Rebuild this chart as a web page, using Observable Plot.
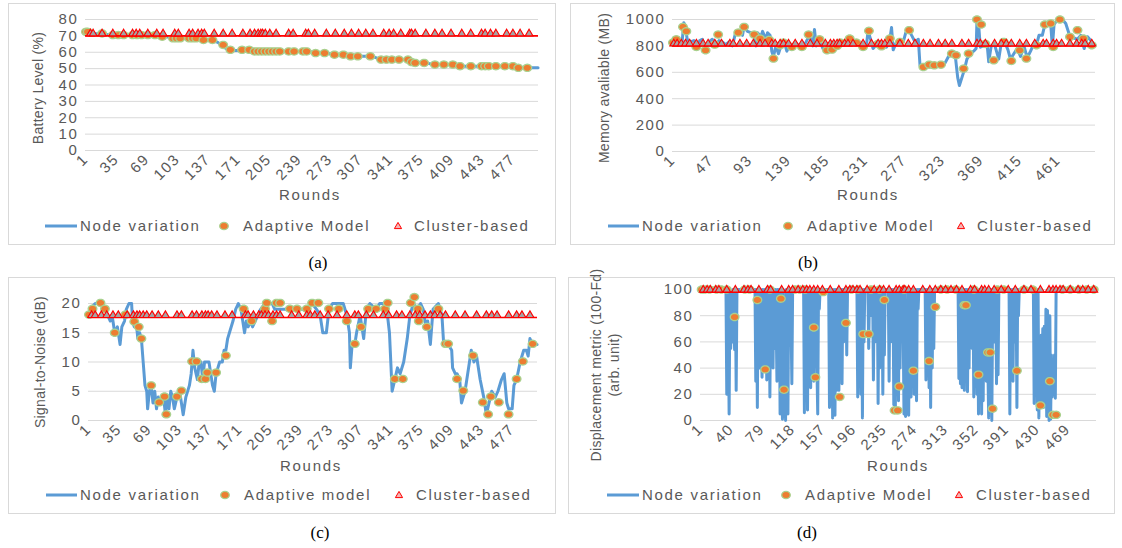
<!DOCTYPE html>
<html><head><meta charset="utf-8">
<script src="https://cdn.jsdelivr.net/npm/d3@7"></script>
<script src="https://cdn.jsdelivr.net/npm/@observablehq/plot@0.6"></script>
<style>
body{margin:0;background:#fff;}
#root{position:relative;width:1122px;height:548px;overflow:hidden;background:#fff;font-family:"Liberation Sans",Arial,sans-serif;color:#595959;}
.box{position:absolute;border:1px solid #d9d9d9;box-sizing:border-box;}
.abs{position:absolute;white-space:nowrap;}
.lg{font-size:15px;letter-spacing:1.7px;line-height:18px;}
.yt{font-size:14px;letter-spacing:0.3px;transform:translate(-50%,-50%) rotate(-90deg);line-height:17px;}
.cap{font-family:"Liberation Serif","Times New Roman",serif;font-size:17px;color:#000;transform:translate(-50%,-50%);}
.rl{font-size:15px;letter-spacing:1.7px;transform:translate(-50%,-50%);}
</style></head><body><div id="root"></div>
<script>
// ---------- shared ----------
const roundCount = 505;
const seriesNames = ["Node variation", "Adaptive Model", "Cluster-based"];
const seriesNamesC = ["Node variation", "Adaptive model", "Cluster-based"];
const roundTicksAC = [1,35,69,103,137,171,205,239,273,307,341,375,409,443,477];
const roundTicksB = [1,47,93,139,185,231,277,323,369,415,461];
const roundTicksD = [1,40,79,118,157,196,235,274,313,352,391,430,469];

// ---------- (a) battery ----------
const batteryTicks = [0,10,20,30,40,50,60,70,80];
const batteryNode = [[1,72],[5,72],[10,71.5],[20,71],[30,70.5],[45,70.5],[60,70.5],[75,70.5],[85,70],[95,69],[105,68.5],[120,68.5],[130,68],[140,67.5],[148,66],[155,63],[162,61],[175,61],[185,61],[190,60.5],[215,60.5],[235,60.5],[250,60.5],[258,59.5],[268,59.5],[278,58.5],[290,58.5],[296,57.5],[320,57.5],[328,56],[335,55.5],[355,55.5],[362,55],[368,54],[380,53.5],[388,52.5],[412,52.5],[418,51.5],[478,51.5],[483,50.5],[505,50.5]];
const batteryAdaptive = [[1,72.5],[3,72.5],[19,71.5],[31,70.5],[37,70.5],[43,70.5],[53,70.5],[58,70.5],[63,70.5],[70,70.5],[78,70.5],[86,69.5],[98,68.5],[102,68.5],[106,68.5],[116,68.5],[120,68.5],[124,68.5],[132,67.5],[142,67.5],[154,64.5],[162,61.5],[175,61.5],[183,61.5],[189,60.5],[193,60.5],[197,60.5],[201,60.5],[205,60.5],[209,60.5],[213,60.5],[217,60.5],[227,60.5],[233,60.5],[243,60.5],[247,60.5],[257,59.5],[267,59.5],[278,58.5],[288,58.5],[296,57.5],[304,57.5],[318,57.5],[330,55.5],[336,55.5],[342,55.5],[350,55.5],[360,55.5],[364,54],[368,53.5],[378,53.5],[390,52.5],[400,52.5],[410,52.5],[418,51.5],[430,51.5],[442,51.5],[446,51.5],[450,51.5],[458,51.5],[468,51.5],[477,51.5],[483,50.5],[493,50.5]];
const batteryClusterValue = 70;
const batteryClusterRounds = [6,9,19,31,43,53,57,61,70,80,87,100,104,116,120,126,130,133,144,154,164,176,184,189,193,196,198,201,206,213,227,232,246,249,256,269,279,289,297,305,313,321,333,339,344,352,362,364,368,380,390,398,408,420,430,442,446,452,458,470,477,485,495];

// ---------- (b) memory ----------
const memoryTicks = [0,200,400,600,800,1000];
const memoryNode = [[1,825],[5,840],[9,830],[12,830],[14,975],[16,950],[18,850],[22,830],[26,840],[30,790],[33,840],[36,850],[40,780],[44,830],[48,850],[52,800],[56,840],[60,830],[64,810],[68,830],[72,800],[76,905],[80,900],[84,880],[86,945],[90,910],[94,900],[98,890],[100,800],[102,900],[106,870],[108,910],[112,850],[114,900],[117,880],[119,760],[121,720],[124,800],[127,740],[130,800],[134,830],[137,760],[140,800],[144,790],[148,820],[152,800],[156,790],[160,830],[164,880],[168,800],[170,925],[172,800],[176,850],[180,780],[184,770],[188,790],[192,810],[196,800],[200,830],[204,820],[208,850],[212,860],[216,830],[220,840],[224,810],[228,790],[232,800],[234,915],[237,850],[240,780],[244,810],[248,800],[252,820],[256,790],[260,850],[262,940],[264,770],[268,830],[272,840],[276,830],[279,900],[283,920],[286,880],[290,830],[294,850],[296,650],[300,640],[305,655],[310,640],[315,650],[320,655],[325,660],[330,720],[335,740],[338,730],[341,560],[343,500],[346,560],[349,620],[352,700],[356,740],[360,760],[363,780],[364,1000],[366,960],[368,790],[372,800],[376,820],[378,680],[381,800],[385,810],[390,700],[393,820],[397,830],[401,770],[404,700],[408,740],[412,780],[416,720],[420,800],[424,710],[428,760],[432,820],[436,830],[438,880],[442,880],[445,960],[449,960],[452,970],[454,790],[456,960],[460,1000],[466,1000],[470,970],[475,870],[480,860],[484,850],[488,880],[492,780],[496,870],[500,840],[505,805]];
const memoryAdaptive = [[1,825],[5,850],[13,944],[17,911],[29,792],[40,767],[51,810],[55,886],[79,901],[86,944],[98,886],[105,856],[116,845],[121,704],[129,805],[133,825],[143,792],[155,792],[163,886],[176,850],[185,767],[191,772],[197,800],[201,825],[212,856],[220,825],[228,792],[235,914],[246,815],[250,797],[260,856],[272,830],[283,919],[300,640],[307,658],[313,653],[321,658],[334,742],[339,729],[348,628],[354,742],[364,1000],[369,962],[374,815],[384,691],[396,830],[405,686],[415,767],[423,704],[435,805],[445,962],[452,970],[455,792],[463,1000],[475,868],[484,919],[491,856],[501,805]];
const memoryClusterValue = 800;
const memoryClusterRounds = [2,6,11,16,21,29,37,43,51,59,69,73,81,89,97,105,111,119,123,129,133,139,147,155,165,173,183,189,193,197,200,206,210,216,228,238,246,250,254,260,272,282,290,300,308,318,326,334,346,354,364,368,374,385,393,399,405,415,423,433,443,447,455,459,465,475,483,489,493,501];

// ---------- (c) signal-to-noise ----------
const snrTicks = [0,5,10,15,20];
const snrNode = [[1,18],[3,19],[5,19.5],[8,20],[14,20],[19,19],[22,18],[25,17],[27,18],[30,15],[33,16],[35,14],[36,13],[38,16],[41,17],[43,19],[46,20],[49,20],[50,17],[52,16],[54,17],[56,14],[58,15],[60,14],[62,10],[64,6],[66,5],[67,2],[69,5],[71,6],[73,3],[75,5],[77,2],[79,4],[81,3],[83,3],[85,4],[87,1],[89,4],[91,2],[93,5],[95,4],[97,2],[100,4],[103,5],[105,3],[107,1],[110,4],[114,6],[116,8],[118,12],[120,9],[123,7],[125,10],[127,10],[129,7],[131,10],[134,10],[136,10],[138,8],[140,6],[142,5],[144,8],[146,9],[148,10],[151,10],[153,12],[155,12],[157,14],[159,15],[163,17],[166,19],[169,20],[172,19],[174,17],[176,15],[178,17],[180,16],[183,17],[185,16],[188,17],[191,18],[194,19],[199,20],[203,20],[207,20],[210,19],[214,19],[222,19],[230,19],[240,19],[246,19],[252,20],[257,19],[261,18],[264,15],[268,15],[271,19],[275,20],[283,20],[287,20],[291,18],[294,15],[295,9],[297,13],[300,13],[302,15],[306,18],[308,16],[310,14],[313,19],[317,20],[324,19],[328,20],[332,20],[336,19],[339,15],[342,5],[345,7],[348,9],[351,8],[355,10],[359,14],[362,18],[366,20],[370,19],[374,20],[377,19],[380,16],[382,17],[385,13],[388,19],[394,20],[398,18],[400,13],[405,13],[409,12],[410,9],[413,8],[415,8],[418,7],[420,3],[424,5],[428,9],[431,12],[434,10],[437,11],[441,7],[445,4],[448,1],[451,3],[454,5],[458,4],[461,5],[465,7],[468,8],[471,3],[473,2],[477,2],[479,6],[482,7],[486,10],[490,12],[493,12],[495,11],[497,14],[500,13],[505,13]];
const snrAdaptive = [[1,18.1],[5,19.1],[14,20.1],[19,19.1],[30,15],[42,18.1],[52,16.9],[57,16],[60,14],[71,6],[80,3.1],[86,4.1],[88,1.05],[100,4.1],[105,5.1],[117,10.1],[122,10.1],[128,7.1],[132,7.1],[134,8.2],[144,8.2],[155,11.1],[175,19.1],[184,17],[199,19.1],[201,20.1],[207,17],[212,20.1],[216,20.1],[227,19.1],[235,19.1],[246,19.1],[252,20.1],[259,20.1],[271,19.1],[282,19.1],[291,17],[300,13.1],[307,16],[315,19.1],[324,19.1],[334,19.1],[337,20.1],[345,7.1],[354,7.1],[363,20.1],[367,21.1],[371,19.1],[372,17],[381,16],[394,19.1],[402,13.1],[405,13.1],[415,7.1],[422,5.1],[433,11.1],[444,3.1],[450,1.05],[453,4.1],[462,3.1],[473,1.05],[482,7.1],[489,10.1],[500,13.1]];
const snrClusterValue = 17.6;
const snrClusterRounds = [4,8,15,21,28,34,44,51,55,58,62,66,72,79,87,100,105,117,122,128,132,135,139,145,154,162,177,180,186,192,195,199,203,208,212,216,229,237,246,250,255,261,270,280,291,300,304,313,321,332,338,347,353,362,368,373,379,385,390,396,402,413,424,437,448,454,460,473,482,488,497];

// ---------- (d) displacement ----------
const dispTicks = [0,20,40,60,80,100];
const dispNode = [[1,100],[32,100],[33,100],[34,20],[35,100],[36,70],[37,5],[38,100],[39,55],[40,82],[41,60],[42,100],[43,78],[44,54],[45,100],[46,23],[47,100],[69,100],
[70,100],[71,30],[72,100],[73,10],[74,100],[75,90],[76,40],[77,100],[78,60],[79,33],[80,100],[81,45],[82,100],[83,39],[84,100],[85,31],[86,100],[87,50],[88,100],[89,18],[90,100],[91,60],[92,100],[93,40],[94,100],[95,55],[96,100],[97,75],[98,30],[99,100],[100,84],[101,100],[102,5],[103,100],[104,40],[105,1],[106,100],[107,3],[108,84],[109,0],[110,100],[111,60],[112,5],[113,100],[114,65],[115,100],[116,75],[117,28],[118,100],[132,100],
[133,6],[134,100],[135,40],[136,100],[137,8],[138,100],[139,60],[140,100],[141,25],[142,100],[143,70],[144,100],[145,30],[146,100],[147,55],[148,100],[149,40],[150,5],[151,100],[152,85],[153,100],[163,100],
[164,100],[165,10],[166,100],[167,12],[168,100],[169,2],[170,70],[171,100],[172,4],[173,100],[174,23],[175,100],[176,60],[177,23],[178,100],[179,40],[180,100],[181,28],[182,100],[183,60],[184,100],[185,70],[186,100],[187,50],[188,100],[200,100],
[201,18],[202,100],[203,40],[204,100],[205,20],[206,100],[207,2],[208,100],[209,60],[210,100],[214,100],[215,55],[216,100],[217,80],[218,100],[220,100],[221,31],[222,100],[223,60],[224,100],[226,100],[227,13],[228,100],[229,40],[230,100],[232,100],[233,20],[234,100],[235,50],[236,100],[240,100],[241,30],[242,100],[244,100],[245,60],[246,100],[247,12],[248,100],[249,8],[250,100],[251,30],[252,100],[253,15],[254,100],[255,40],[256,100],[258,100],[259,70],[260,5],[261,100],[262,3],[263,90],[264,5],[265,100],[266,4],[267,100],[268,60],[269,18],[270,100],[271,30],[272,100],[273,20],[274,100],[275,80],[276,15],[277,100],[278,85],[279,100],[287,100],
[288,31],[289,100],[290,40],[291,100],[292,25],[293,100],[294,10],[295,100],[296,40],[297,100],[298,55],[299,100],[329,100],
[330,32],[331,100],[332,28],[333,100],[334,25],[335,100],[336,60],[337,23],[338,100],[339,50],[340,100],[341,22],[342,100],[343,40],[344,100],[345,70],[346,100],[347,55],[348,100],[349,18],[350,100],[351,30],[352,100],[353,20],[354,100],[355,5],[356,100],[357,35],[358,100],[359,5],[360,100],[361,15],[362,100],[363,60],[364,100],[365,30],[366,100],[367,40],[368,2],[369,100],[370,23],[371,100],[372,0],[373,80],[374,100],[375,100],[376,60],[377,100],[378,28],[379,100],[380,35],[381,100],[394,100],
[395,5],[396,100],[397,40],[398,100],[399,30],[400,100],[401,60],[402,100],[403,100],[404,10],[405,100],[406,80],[407,100],[425,100],
[426,13],[427,100],[428,20],[429,100],[430,8],[431,100],[432,2],[433,60],[434,10],[435,65],[436,20],[437,70],[438,10],[439,72],[440,20],[441,85],[442,3],[443,84],[444,40],[445,0],[446,80],[447,1],[448,50],[449,18],[450,45],[451,20],[452,50],[453,17],[454,100],[505,100]];
const dispAdaptive = [[2,100],[6,100],[12,100],[21,100],[27,100],[34,100],[44,79],[57,100],[63,100],[73,92],[83,39],[89,100],[103,93],[107,23.5],[121,100],[127,100],[134,100],[145,71],[147,33],[157,98],[178,18],[186,74.5],[193,100],[201,100],[208,66],[215,66],[218,100],[229,100],[235,92],[248,7.7],[252,7.7],[254,26],[260,100],[272,38],[292,45.4],[300,86.7],[307,100],[315,100],[326,100],[337,88],[339,88],[349,100],[355,35],[367,52],[370,52],[373,9],[379,100],[387,100],[404,38],[413,100],[424,100],[434,11.5],[446,30],[450,4.3],[454,4.3],[462,100],[472,100],[483,100],[493,100],[502,100]];
const dispClusterValue = 98;
const dispClusterRounds = [4,9,13,20,24,34,45,56,61,65,75,86,90,104,113,118,125,131,136,140,145,150,156,166,177,186,191,195,200,204,213,222,229,234,241,250,254,259,261,266,272,284,293,300,307,313,320,327,334,345,350,359,363,368,375,384,393,402,413,422,434,445,450,454,459,463,472,482,488,495,502];

// ---------- drawing ----------
const FONT = '"Liberation Sans", Arial, sans-serif';
const BLUE = "#5B9BD5", ORANGE = "#ED7D31", GREENEDGE = "#A9D18E", RED = "#FF0000", GRAY = "#A5A5A5";
const ellipseSymbol = {draw(ctx, size){const r=Math.sqrt(size/Math.PI);const rx=r*1.2,ry=r;const n=28;for(let i=0;i<n;i++){const a=2*Math.PI*i/n;const x=rx*Math.cos(a),y=ry*Math.sin(a);if(i)ctx.lineTo(x,y);else ctx.moveTo(x,y);}ctx.closePath();}};
const triSymbol = {draw(ctx, size){const r=Math.sqrt(size/Math.PI);const w=r*1.35,h=r*2.3;ctx.moveTo(0,-h);ctx.lineTo(w,0);ctx.lineTo(-w,0);ctx.closePath();}};

const root = document.getElementById("root");
function el(cls, text, css){const d=document.createElement("div");d.className=cls;if(text!=null)d.textContent=text;Object.assign(d.style,css);root.appendChild(d);return d;}

function panel(p){
  el("box", null, {left:p.box[0]+"px", top:p.box[1]+"px", width:p.box[2]+"px", height:p.box[3]+"px"});
  const chart = Plot.plot({
    width:p.w, height:p.h, marginTop:p.mt, marginBottom:p.mb, marginLeft:p.ml, marginRight:p.mr,
    x:{domain:[0.5, roundCount+0.5]},
    y:{domain:p.ydomain},
    style:`font-family:${FONT};font-size:15px;letter-spacing:1.6px;color:#595959;background:transparent;overflow:visible;`,
    marks:[
      Plot.gridY(p.yticks, {stroke:"#d9d9d9", strokeOpacity:1, strokeWidth:1}),
      Plot.axisY(p.yticks, {tickSize:0, tickPadding:7, label:null, tickFormat:d=>String(d)}),
      Plot.axisX(p.xticks, {tickSize:0, tickPadding:6, tickRotate:-45, label:null, tickFormat:d=>String(d)}),
      Plot.line(p.node, {x:d=>d[0], y:d=>d[1], stroke:BLUE, strokeWidth:3, strokeLinejoin:"round"}),
      Plot.dot(p.adaptive, {x:d=>d[0], y:d=>d[1], symbol:ellipseSymbol, r:3.6, fill:ORANGE, stroke:GREENEDGE, strokeWidth:1.3}),
      Plot.ruleY([p.cluster], {stroke:RED, strokeWidth:1.6}),
      Plot.dot(p.clusterRounds, {x:d=>d, y:()=>p.cluster, symbol:triSymbol, r:2.9, fill:GRAY, stroke:RED, strokeWidth:1.1})
    ]
  });
  chart.style.position="absolute"; chart.style.left=p.sx+"px"; chart.style.top=p.sy+"px";
  root.appendChild(chart);
  p.ytitle.forEach(t=>el("abs yt", t[0], {left:t[1]+"px", top:t[2]+"px"}));
  el("abs rl", "Rounds", {left:p.rounds[0]+"px", top:p.rounds[1]+"px"});
  const L=p.legend, y=L.y;
  const sv=document.createElementNS("http://www.w3.org/2000/svg","svg");
  sv.setAttribute("width",1122);sv.setAttribute("height",20);
  Object.assign(sv.style,{position:"absolute",left:"0px",top:(y-10)+"px",overflow:"visible"});
  sv.innerHTML=`<line x1="${L.line[0]}" x2="${L.line[1]}" y1="10" y2="10" stroke="${BLUE}" stroke-width="3"/>`+
    `<ellipse cx="${L.dot}" cy="10" rx="4.3" ry="3.6" fill="${ORANGE}" stroke="${GREENEDGE}" stroke-width="1.3"/>`+
    `<path d="M${L.tri},${10-3.6} l3.6,6.2 l-7.2,0 z" fill="#F4B6B6" stroke="${RED}" stroke-width="1"/>`;
  root.appendChild(sv);
  L.names.forEach((n,i)=>el("abs lg", n, {left:L.text[i]+"px", top:(y-9)+"px"}));
  el("abs cap", p.caption[0], {left:p.caption[1]+"px", top:p.caption[2]+"px"});
}

panel({box:[8,3,548,242], sx:8, sy:0, w:548, h:190, mt:19, mb:40, ml:77, mr:18,
  ydomain:[0,80], yticks:batteryTicks, xticks:roundTicksAC,
  node:batteryNode, adaptive:batteryAdaptive, cluster:batteryClusterValue, clusterRounds:batteryClusterRounds,
  ytitle:[["Battery Level (%)",38,88]], rounds:[310,194],
  legend:{y:226, line:[45,77], dot:224, tri:398, text:[80,243,414], names:seriesNames},
  caption:["(a)",318,263]});

panel({box:[570,3,545,242], sx:570, sy:0, w:545, h:190, mt:19, mb:39, ml:102, mr:20,
  ydomain:[0,1000], yticks:memoryTicks, xticks:roundTicksB,
  node:memoryNode, adaptive:memoryAdaptive, cluster:memoryClusterValue, clusterRounds:memoryClusterRounds,
  ytitle:[["Memory avaliable (MB)",604,88]], rounds:[868,194],
  legend:{y:226, line:[608,639], dot:788, tri:961, text:[642,807,977], names:seriesNames},
  caption:["(b)",808,263]});

panel({box:[8,277,548,237], sx:8, sy:277, w:548, h:190, mt:26, mb:47, ml:80, mr:19,
  ydomain:[0,20], yticks:snrTicks, xticks:roundTicksAC,
  node:snrNode, adaptive:snrAdaptive, cluster:snrClusterValue, clusterRounds:snrClusterRounds,
  ytitle:[["Signal-to-Noise (dB)",40,362]], rounds:[311,465],
  legend:{y:495, line:[46,77], dot:225, tri:399, text:[80,244,416], names:seriesNamesC},
  caption:["(c)",320,533]});

panel({box:[568,277,547,237], sx:568, sy:277, w:547, h:190, mt:12, mb:47, ml:132, mr:19,
  ydomain:[0,100], yticks:dispTicks, xticks:roundTicksD,
  node:dispNode, adaptive:dispAdaptive, cluster:dispClusterValue, clusterRounds:dispClusterRounds,
  ytitle:[["Displacement metric (100-Fd)",596,365],["(arb. unit)",614,365]], rounds:[898,465],
  legend:{y:495, line:[607,639], dot:786, tri:959, text:[642,805,976], names:seriesNames},
  caption:["(d)",807,533]});
</script></body></html>
